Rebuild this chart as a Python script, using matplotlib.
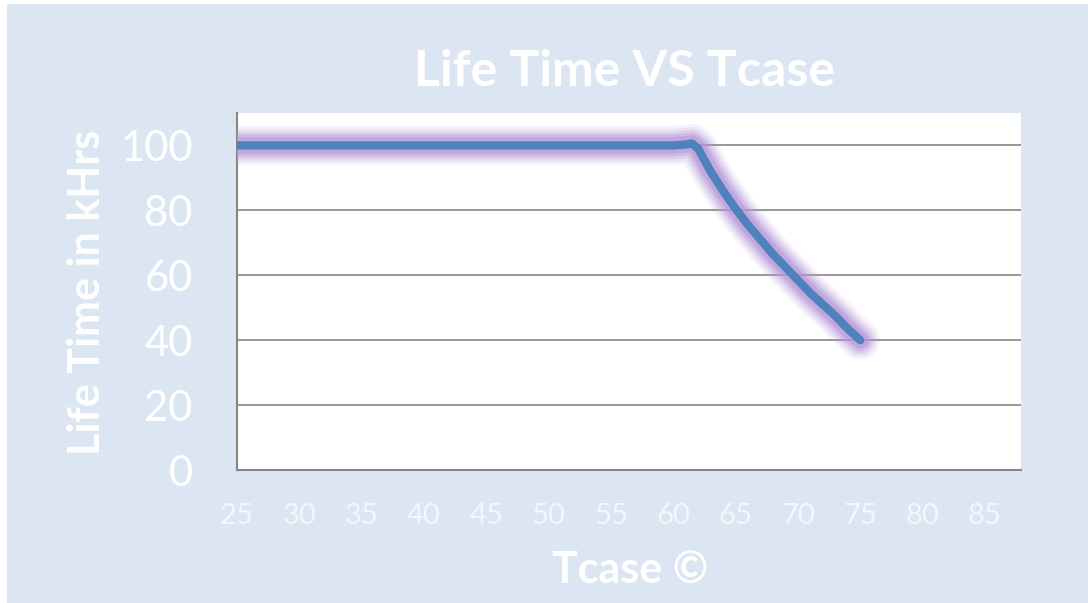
import matplotlib.pyplot as plt
import matplotlib.patheffects as pe
from matplotlib.patches import Rectangle

tcase = [25, 30, 35, 40, 45, 50, 55, 60, 61, 61.5, 62, 63, 64, 65, 66, 67, 68, 69, 70, 71, 72, 73, 74, 75]
life_khrs = [100, 100, 100, 100, 100, 100, 100, 100, 100.3, 100.6, 99, 92, 86, 80.5, 75.5, 71, 66.5, 62.5, 58.5, 54.5, 51, 47.5, 43.5, 40]
x_ticks = [25, 30, 35, 40, 45, 50, 55, 60, 65, 70, 75, 80, 85]
y_ticks = [0, 20, 40, 60, 80, 100]

plt.rcParams['font.family'] = ['Lato', 'DejaVu Sans']

bg = '#dce6f2'
fig = plt.figure(figsize=(10.88, 6.03), dpi=100, facecolor='white')
fig.patches.append(Rectangle((7 / 1088, 0), 1 - 7 / 1088, 1 - 4 / 603,
                             transform=fig.transFigure, facecolor=bg,
                             edgecolor='none', zorder=-10))

ax = fig.add_axes([237 / 1088, 1 - 470 / 603, (1021 - 237) / 1088, (470 - 113) / 603])
ax.set_facecolor('white')

# soft purple glow around the line
glow = [pe.Stroke(linewidth=w, foreground='#b395d8', alpha=a) for w, a in
        [(28, 0.12), (24, 0.16), (20, 0.24), (16, 0.34), (12, 0.5)]] + [pe.Normal()]
ax.plot(tcase, life_khrs, color='#4f81bd', linewidth=6, solid_capstyle='round',
        solid_joinstyle='round', path_effects=glow, zorder=5)

ax.set_xlim(25, 87.9)
ax.set_ylim(0, 110)
ax.set_xticks(x_ticks)
ax.set_yticks(y_ticks)
ax.yaxis.grid(True, color='#868686', linewidth=1.2)
ax.set_axisbelow(True)
for s in ['top', 'right']:
    ax.spines[s].set_visible(False)
for s in ['left', 'bottom']:
    ax.spines[s].set_color('#868686')
    ax.spines[s].set_linewidth(1.5)
ax.tick_params(axis='y', length=0, pad=32, labelsize=30, labelcolor='white')
ax.tick_params(axis='x', length=0, pad=24, labelsize=21, labelcolor='#f4f6fa')

fig.text(625 / 1088, 1 - 72 / 603, 'Life Time VS Tcase', color='white',
         fontsize=36, fontweight='bold', ha='center', va='center')
fig.text(87 / 1088, 1 - 292 / 603, 'Life Time in kHrs', color='white',
         fontsize=31, fontweight='bold', ha='center', va='center', rotation=90)
fig.text(630 / 1088, 1 - 570 / 603, 'Tcase ©', color='white',
         fontsize=31, fontweight='bold', ha='center', va='center')

fig.savefig('out.png', dpi=100, facecolor=fig.get_facecolor())
